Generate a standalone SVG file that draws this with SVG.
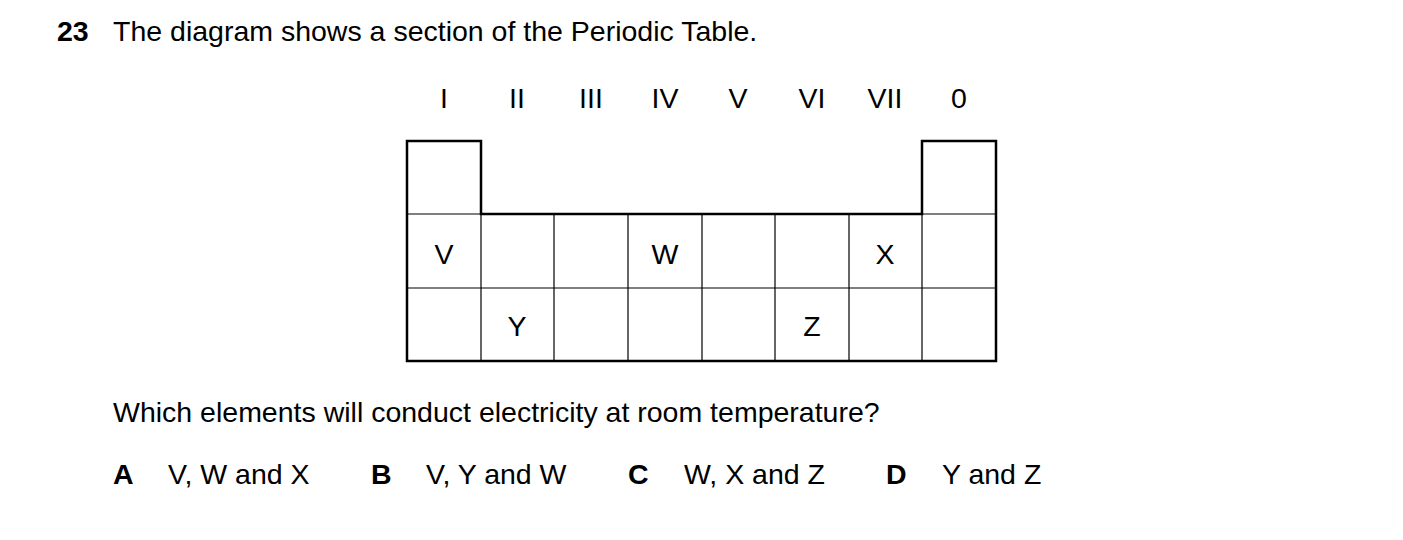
<svg xmlns="http://www.w3.org/2000/svg" width="1403" height="540" viewBox="0 0 1403 540">
<style>
text{font-family:"Liberation Sans",Arial,sans-serif;font-size:28.5px;fill:#000}
.c{text-anchor:middle}
.b{font-weight:bold}
.thin{stroke:#000;stroke-width:1.2;fill:none}
.thick{stroke:#000;stroke-width:2.5;fill:none}
</style>
<rect width="1403" height="540" fill="#fff"/>
<g id="title"><text x="57" y="41" class="b">23</text><text x="113" y="41">The diagram shows a section of the Periodic Table.</text></g>
<g id="groups">
<text x="444" y="108" class="c">I</text><text x="517" y="108" class="c">II</text><text x="591" y="108" class="c">III</text><text x="665" y="108" class="c">IV</text><text x="738" y="108" class="c">V</text><text x="812" y="108" class="c">VI</text><text x="885" y="108" class="c">VII</text><text x="959" y="108" class="c">0</text>
</g>
<g id="table">
<path class="thin" d="M407 214H996M407 288H996M481 214V361M554 214V361M628 214V361M702 214V361M775 214V361M849 214V361M922 214V361"/>
<path class="thick" d="M407 141H481V214H922V141H996V361H407Z"/>
</g>
<g id="cells">
<text x="444" y="264" class="c">V</text><text x="665" y="264" class="c">W</text><text x="885" y="264" class="c">X</text>
<text x="517" y="336" class="c">Y</text><text x="812" y="336" class="c">Z</text>
</g>
<g id="question"><text x="113" y="422">Which elements will conduct electricity at room temperature?</text></g>
<g id="options">
<text x="113" y="484" class="b">A</text><text x="168" y="484">V, W and X</text>
<text x="371" y="484" class="b">B</text><text x="426" y="484">V, Y and W</text>
<text x="628" y="484" class="b">C</text><text x="684" y="484">W, X and Z</text>
<text x="886" y="484" class="b">D</text><text x="942" y="484">Y and Z</text>
</g>
</svg>
